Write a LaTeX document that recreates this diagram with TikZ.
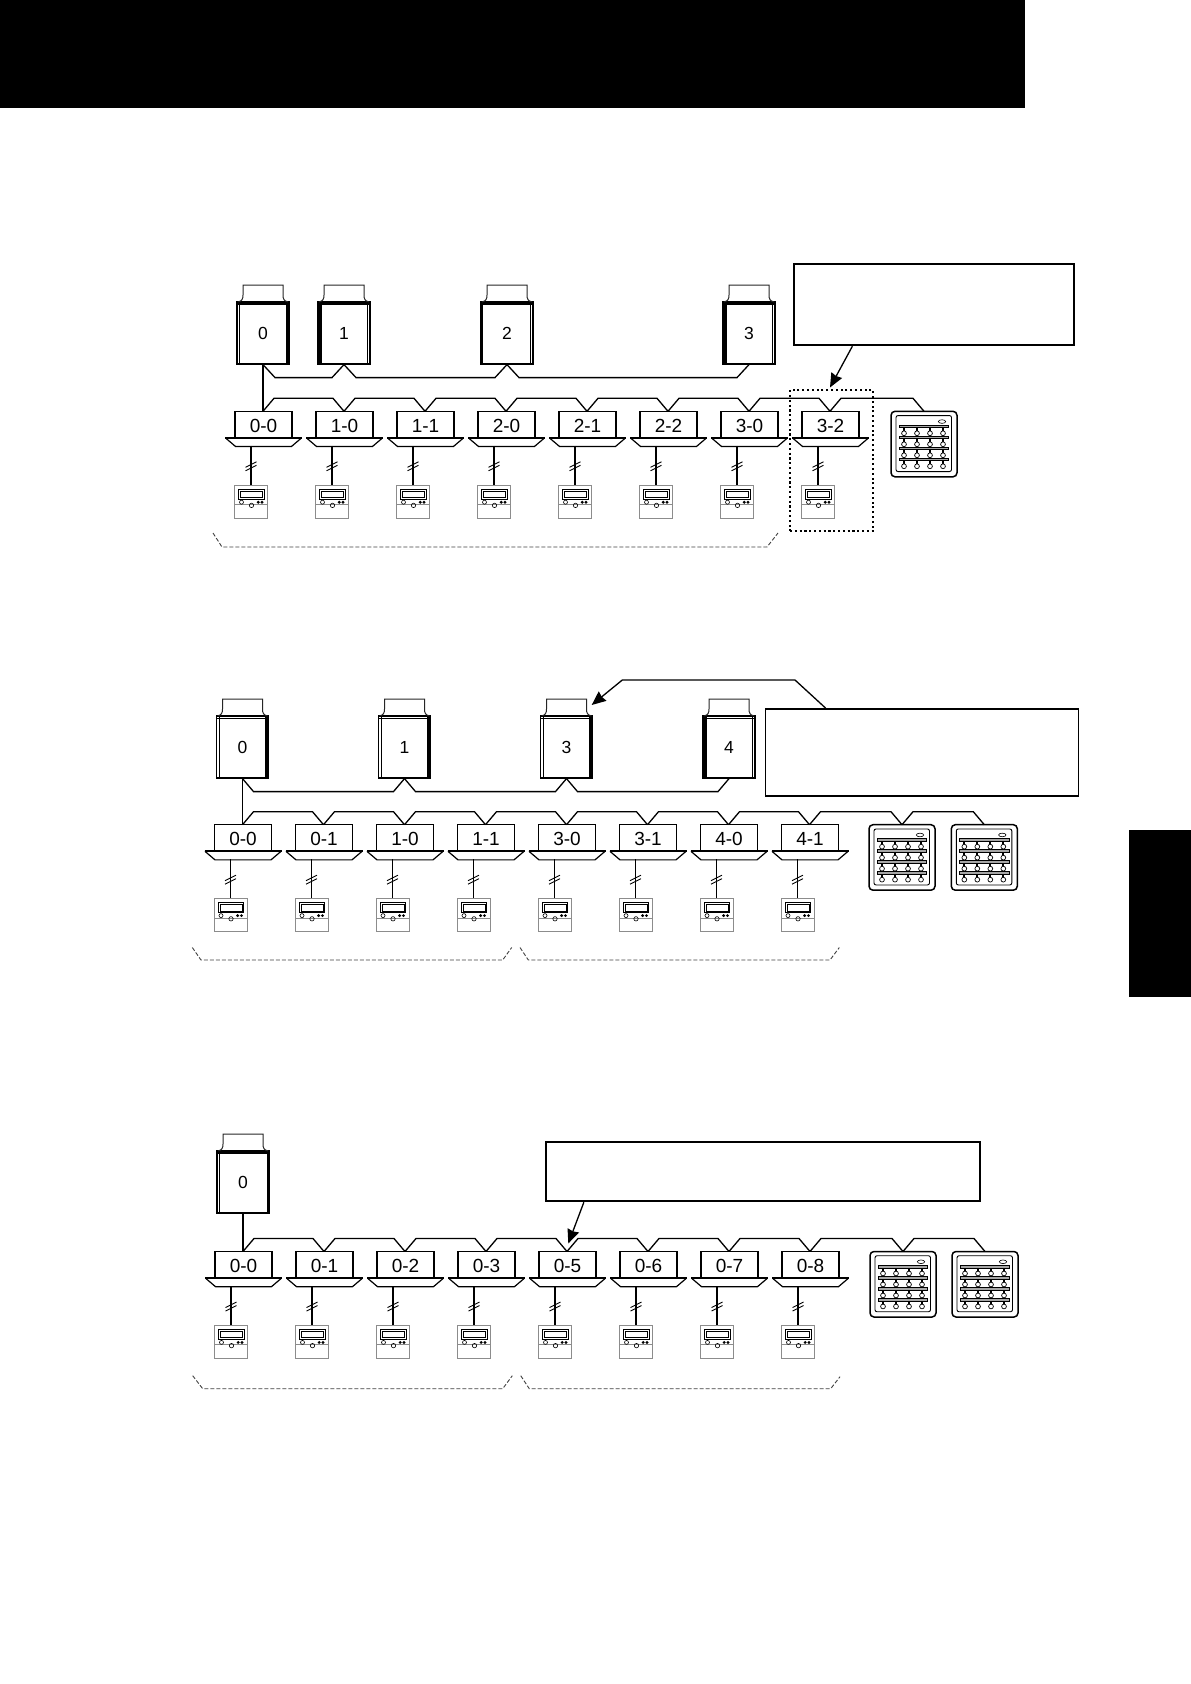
\documentclass[tikz,border=0pt]{standalone}
\usepackage{fontspec}
\setmainfont{Liberation Sans}
\usetikzlibrary{calc, arrows.meta}

\begin{document}
\begin{tikzpicture}[x=1pt, y=-1pt,
  wire/.style={line width=1.3pt, line join=miter},
  indoor/.style={draw, line width=1.3pt, minimum width=57pt, minimum height=26pt,
    inner sep=0pt, text height=15.5pt, text depth=0pt, font=\fontsize{19}{19}\selectfont},
  outdoor/.style={draw, line width=1.2pt, minimum width=52pt, minimum height=62pt,
    inner sep=0pt, font=\fontsize{17.5}{17.5}\selectfont},
  remote/.style={draw=black!45, line width=0.9pt, minimum width=33pt, minimum height=33pt, inner sep=0pt},
  ctrl/.style={draw, line width=1.5pt, rounded corners=4pt, minimum width=66pt, minimum height=65.5pt,
    inner sep=0pt, outer sep=0pt},
  note/.style={draw, line width=1.8pt, inner sep=0pt},
  pointer/.style={line width=1.3pt, -{Stealth[length=14pt, width=12pt, inset=1pt]}},
  span/.style={black!75, line width=0.9pt, dash pattern=on 4pt off 2pt},
  pics/panel/.style={code={
    \draw[line width=1.2pt] (-38,0) -- (-28,8.5) -- (28,8.5) -- (38,0);
    \draw[line width=1.8pt] (-38.5,0) -- (38.5,0);
  }},
  pics/hash/.style={code={
    \draw[line width=0.9pt] (-5.5,0.5) -- (5.5,-5);
    \draw[line width=0.9pt] (-5.5,4) -- (5.5,-1.5);
  }},
  pics/remotedeco/.style={code={
    \draw[black!45, line width=0.7pt] (-16.5,2.5) -- (16.5,2.5);
    \draw[line width=0.9pt] (-12.5,-12.5) rectangle (13,-3);
    \draw[line width=0.8pt] (-10.5,-11) rectangle (11.5,-4.5);
    \draw[line width=0.6pt] (-9.5,0.2) circle[radius=2pt];
    \draw[line width=0.6pt] (0.5,3.4) circle[radius=2.2pt];
    \fill (7.2,0.2) circle[radius=1.6pt];
    \fill (11,0.2) circle[radius=1.6pt];
  }},
  % #1 side of the heavy bar, #2 inset of the heavy top, #3 bar width
  pics/outdeco/.style n args={3}{code={
    \fill (#1*26,-31) rectangle (#1*26-#1*#3,31);
    \draw[line width=0.7pt] (#1*-23.5,-31) -- (#1*-23.5,31);
    \fill (-26,-31+#2) rectangle (26,-27.8);
    \draw[black!85, line width=1pt] (-25,-31) .. controls (-21,-32) and (-20,-34) .. (-20,-38)
      -- (-20,-48) -- (20,-48) -- (20,-38) .. controls (20,-34) and (21,-32) .. (25,-31);
  }},
  pics/ctrldeco/.style={code={
    \draw[line width=0.9pt, rounded corners=2pt] (-28,-28.5) rectangle (27.5,27.5);
    \draw[line width=0.6pt] (18,-22.5) ellipse[x radius=3.7pt, y radius=1.8pt];
    \foreach \yy in {-17.5,-6.5,4.5,15.5} {
      \draw[fill=black!35, line width=0.6pt] (-25,\yy-1.2) rectangle (24.5,\yy+1.2);
      \foreach \xx in {-20,-7,6,19} {
        \fill (\xx-1.1,\yy+1) rectangle (\xx+1.1,\yy+4);
        \draw[fill=white, line width=0.7pt] (\xx,\yy+6.7) circle[radius=2.4pt];
      }
    }
  }}]
  \useasboundingbox (0,0) rectangle (1191,1684);
  \fill (0,0) rectangle (1025,108);
  \fill (1129,830) rectangle (1191,997);

  % indoor row, remote and bus, one pass per system
  \foreach \row/\xs/\ys/\labs in {1/263/411.3/{0-0,1-0,1-1,2-0,2-1,2-2,3-0,3-2},
      2/242.5/824.7/{0-0,0-1,1-0,1-1,3-0,3-1,4-0,4-1},
      3/243/1251.5/{0-0,0-1,0-2,0-3,0-5,0-6,0-7,0-8}} {
    \foreach \lab [count=\i] in \labs {
      \coordinate (v\row\i) at (\xs+81*\i-81,\ys);
      \node[indoor] (a\row\i) at (\xs+81*\i-80.5,\ys+13) {\lab};
      \pic at (a\row\i.south) {panel};
      \node[remote] (m\row\i) at (\xs+81*\i-93,\ys+90.7) {};
      \pic at (m\row\i) {remotedeco};
      \coordinate (d\row\i) at (\xs+81*\i-93,\ys+34.5);
      \draw[wire] (d\row\i) -- (m\row\i.north);
      \pic at (\xs+81*\i-93,\ys+55.5) {hash};
    }
    \foreach \p/\q in {1/2,2/3,3/4,4/5,5/6,6/7,7/8}
      \draw[wire] (v\row\p) -- ++(11,-13) -- ($(v\row\q)+(-11,-13)$) -- (v\row\q);
  }

  % first system
  \node[outdoor] (o11) at (263,333) {0};
  \node[outdoor] (o12) at (344,333) {1};
  \node[outdoor] (o13) at (507,333) {2};
  \node[outdoor] (o14) at (749,333) {3};
  \pic at (o11) {outdeco={1}{0}{3.5}};
  \pic at (o12) {outdeco={-1}{0}{3.5}};
  \pic at (o13) {outdeco={-1}{0}{2}};
  \pic at (o14) {outdeco={-1}{0}{3.5}};
  \draw[wire] (o11.south) -- (v11);
  \foreach \p/\q in {1/2,2/3,3/4}
    \draw[wire] (o1\p.south) -- ++(12,13) -- ($(o1\q.south)+(-12,13)$) -- (o1\q.south);
  \node[ctrl] (c11) at (924,444.05) {};
  \pic at (c11) {ctrldeco};
  \draw[wire] (v18) -- ++(11,-13) -- ($(c11.north)+(-11,-13)$) -- (c11.north);
  \node[note, minimum width=280pt, minimum height=81pt] (n1) at (934.3,304.8) {};
  \coordinate (tip1) at (830,387.5);
  \draw[pointer] ($(n1.south west)+(59,0)$) -- (tip1);
  \node[draw, line width=2.1pt, dash pattern=on 2.1pt off 2.7pt, minimum width=83pt, minimum height=141pt] (grp1) at (831.5,460.5) {};
  \draw[span] (213,533) -- (222,547) -- (767,547) -- (778,533);

  % second system
  \node[outdoor] (o21) at (242.5,747) {0};
  \node[outdoor] (o22) at (404.5,747) {1};
  \node[outdoor] (o23) at (566.5,747) {3};
  \node[outdoor] (o24) at (729,747) {4};
  \pic at (o21) {outdeco={1}{2.2}{3.7}};
  \pic at (o22) {outdeco={1}{2.2}{3.7}};
  \pic at (o23) {outdeco={1}{2.2}{3.7}};
  \pic at (o24) {outdeco={-1}{2.2}{3.7}};
  \draw[wire] (o21.south) -- (v21);
  \foreach \p/\q in {1/2,2/3,3/4}
    \draw[wire] (o2\p.south) -- ++(11,13) -- ($(o2\q.south)+(-11,13)$) -- (o2\q.south);
  \node[ctrl] (c21) at (902,857.45) {};
  \node[ctrl] (c22) at (984.3,857.45) {};
  \pic at (c21) {ctrldeco};
  \pic at (c22) {ctrldeco};
  \draw[wire] (v28) -- ++(11,-13) -- ($(c21.north)+(-11,-13)$) -- (c21.north);
  \draw[wire] (c21.north) -- ++(11,-13) -- ($(c22.north)+(-11,-13)$) -- (c22.north);
  \node[note, minimum width=313pt, minimum height=87pt] (n2) at (922,752.5) {};
  \coordinate (tip2) at (591.7,705);
  \draw[pointer] ($(n2.north west)+(61,0)$) -- (795,680) -- (622.3,680) -- (tip2);
  \draw[span] (192.3,947.5) -- (201,960) -- (502.7,960) -- (511.7,947.5);
  \draw[span] (520,947.5) -- (528.3,960) -- (830,960) -- (839.3,947.5);

  % third system
  \node[outdoor] (o31) at (243,1182) {0};
  \pic at (o31) {outdeco={1}{0}{2.2}};
  \draw[wire] (o31.south) -- (v31);
  \node[ctrl] (c31) at (903,1284.25) {};
  \node[ctrl] (c32) at (985,1284.25) {};
  \pic at (c31) {ctrldeco};
  \pic at (c32) {ctrldeco};
  \draw[wire] (v38) -- ++(11,-13) -- ($(c31.north)+(-11,-13)$) -- (c31.north);
  \draw[wire] (c31.north) -- ++(11,-13) -- ($(c32.north)+(-11,-13)$) -- (c32.north);
  \node[note, minimum width=434.5pt, minimum height=59.3pt] (n3) at (763,1171.7) {};
  \coordinate (tip3) at (568.3,1243.5);
  \draw[pointer] ($(n3.south west)+(39,0)$) -- (tip3);
  \draw[span] (192.7,1375.7) -- (202.7,1388.7) -- (502.7,1388.7) -- (512.3,1375.7);
  \draw[span] (520.7,1375.7) -- (529.3,1388.7) -- (830.7,1388.7) -- (840,1376.7);
\end{tikzpicture}
\end{document}
